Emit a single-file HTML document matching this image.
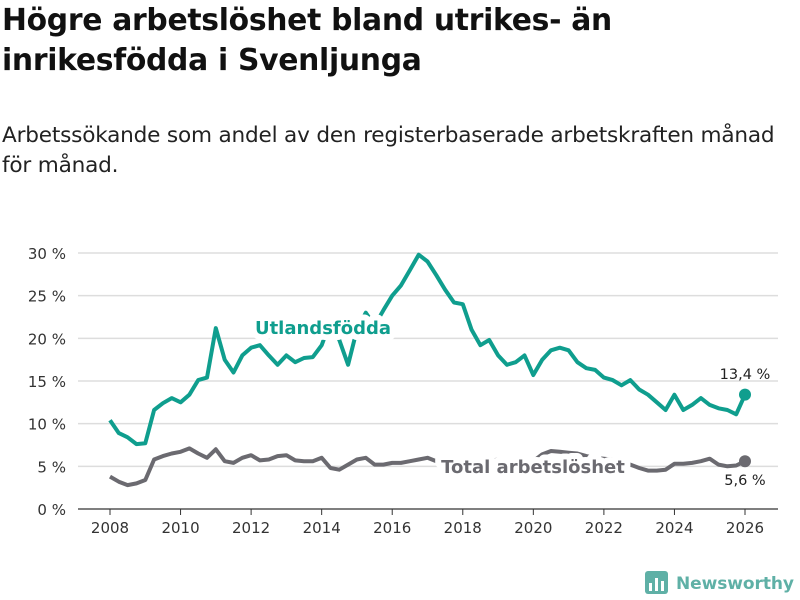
<!DOCTYPE html>
<html><head><meta charset="utf-8"><style>
body{margin:0;width:800px;height:600px;background:#fff;font-family:"Liberation Sans","DejaVu Sans",sans-serif;overflow:hidden;position:relative}
h1{position:absolute;left:2px;top:1px;margin:0;font-size:29.8px;line-height:40px;font-weight:bold;color:#111;font-family:"DejaVu Sans",sans-serif;letter-spacing:-0.3px}
.sub{position:absolute;left:2px;top:121px;font-size:21.6px;line-height:30px;color:#222;font-family:"DejaVu Sans",sans-serif;letter-spacing:-0.2px}
svg{position:absolute;left:0;top:0}
</style></head><body>
<h1>Högre arbetslöshet bland utrikes- än<br>inrikesfödda i Svenljunga</h1>
<div class="sub">Arbetssökande som andel av den registerbaserade arbetskraften månad<br>för månad.</div>
<svg id="c" width="800" height="600"></svg>
<script>
const startYear = 2008;
const step = 0.25;
const utlandsfodda = [10.4,8.9,8.4,7.6,7.7,11.6,12.4,13,12.5,13.4,15.1,15.4,21.2,17.5,16,18,18.9,19.2,18,16.9,18,17.2,17.7,17.8,19.2,22,19.8,16.9,21,23,21.5,23.3,25,26.2,28,29.8,29,27.4,25.7,24.2,24,21,19.2,19.8,18,16.9,17.2,18,15.7,17.5,18.6,18.9,18.6,17.2,16.5,16.3,15.4,15.1,14.5,15.1,14,13.4,12.5,11.6,13.4,11.6,12.2,13,12.2,11.8,11.6,11.1,13.4];
const total = [3.8,3.2,2.8,3.0,3.4,5.8,6.2,6.5,6.7,7.1,6.5,6.0,7.0,5.6,5.4,6.0,6.3,5.7,5.8,6.2,6.3,5.7,5.6,5.6,6.0,4.8,4.6,5.2,5.8,6.0,5.2,5.2,5.4,5.4,5.6,5.8,6.0,5.6,5.5,5.4,5.2,5.3,5.5,5.6,5.8,5.6,5.5,5.6,5.6,6.4,6.8,6.7,6.6,6.5,6.2,6.0,5.9,5.8,5.6,5.2,4.8,4.5,4.5,4.6,5.3,5.3,5.4,5.6,5.9,5.2,5.0,5.1,5.6];
const yTicks = [0,5,10,15,20,25,30];
const xTicks = [2008,2010,2012,2014,2016,2018,2020,2022,2024,2026];
const NS="http://www.w3.org/2000/svg";
const svg=document.getElementById('c');
const x=t=>110+(t-2008)*(635/18);
const y=v=>509-v*(256/30);
function mk(tag,attrs,parent){const e=document.createElementNS(NS,tag);for(const k in attrs)e.setAttribute(k,attrs[k]);(parent||svg).appendChild(e);return e;}
yTicks.forEach(v=>{
  const l=mk('line',{x1:78,x2:778,y1:y(v),y2:y(v),stroke:v===0?'#333':'#ddd','stroke-width':v===0?1.2:1.5});
  
  
  const t=mk('text',{x:66,y:y(v)+6,'text-anchor':'end','font-size':15,fill:'#333','font-family':'DejaVu Sans,sans-serif'});
  t.textContent=v+' %';
  
  
});
xTicks.forEach(yr=>{
  const l=mk('line',{x1:x(yr),x2:x(yr),y1:509,y2:515,stroke:'#333'});
  
  
  const t=mk('text',{x:x(yr),y:533,'text-anchor':'middle','font-size':15,fill:'#333','font-family':'DejaVu Sans,sans-serif'});
  t.textContent=yr;
  
  
});
function line(data,color,name){
  const d=data.map((v,i)=>(i?'L':'M')+x(startYear+i*step).toFixed(1)+','+y(v).toFixed(1)).join('');
  const p=mk('path',{d:d,fill:'none',stroke:color,'stroke-width':4,'stroke-linejoin':'round'});
  
  
  const n=data.length-1;
  const c=mk('circle',{cx:x(startYear+n*step),cy:y(data[n]),r:6,fill:color});
  
  
}
line(total,'#6b6a70','total');
line(utlandsfodda,'#0f9e8e','utlandsfodda');
function label(txt,xx,yy,col,name,size,bold,anchor){
  const t=mk('text',{x:xx,y:yy,'text-anchor':anchor,'font-size':size,'font-weight':bold?'bold':'normal',fill:col,stroke:'#fff','stroke-width':bold?12:0,'stroke-linejoin':'round','paint-order':'stroke','font-family':'DejaVu Sans,sans-serif'});
  t.textContent=txt;
  
  
}
label('Utlandsfödda',323,334,'#0f9e8e','series-label-utlandsfodda',18,true,'middle');
label('Total arbetslöshet',533,473,'#6b6a70','series-label-total',18,true,'middle');
label('13,4 %',745,379,'#222','end-value-utlandsfodda',14.5,false,'middle');
label('5,6 %',745,485,'#222','end-value-total',14.5,false,'middle');
const g=mk('g',{});


mk('rect',{x:645,y:571,width:23,height:23,rx:3,fill:'#5fb0a6'},g);
mk('rect',{x:649,y:583,width:3,height:8,fill:'#fff'},g);
mk('rect',{x:655,y:578,width:3,height:13,fill:'#fff'},g);
mk('rect',{x:661,y:581,width:3,height:10,fill:'#fff'},g);
const lt=mk('text',{x:676,y:589,'font-size':17,'font-weight':'bold',fill:'#5fb0a6','font-family':'DejaVu Sans,sans-serif',textLength:118},g);
lt.textContent='Newsworthy';
</script>
</body></html>
